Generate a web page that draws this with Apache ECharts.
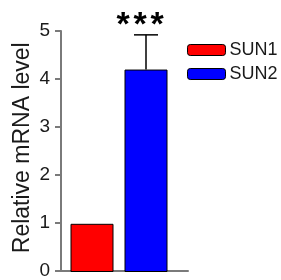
<!DOCTYPE html>
<html>
<head>
<meta charset="utf-8">
<script src="https://cdn.jsdelivr.net/npm/echarts@6/dist/echarts.min.js"></script>
<style>
  html, body { margin: 0; padding: 0; background: #fff; }
  #chart { width: 281px; height: 280px; }
</style>
</head>
<body>
<div id="chart"></div>
<script>
// data
var categories = ['SUN1', 'SUN2'];
var means = [1, 4.2];
var upperErr = [0, 0.72];
var stars = ['', '***'];
var colors = ['#ff0000', '#0000ff'];

(function() {
    var axisGrey = '#7a7a7a';
    var font = 'Arial, "Liberation Sans", sans-serif';

    var barSeries = categories.map(function(name, i) {
        return {
            name: name,
            type: 'bar',
            xAxisIndex: 1,
            yAxisIndex: 1,
            barWidth: 43,
            barGap: '-100%',
            itemStyle: { color: colors[i], borderColor: '#000', borderWidth: 1 },
            data: means.map(function(v, j) { return j === i ? v : '-'; })
        };
    });

    var errData = [];
    means.forEach(function(v, i) {
        if (upperErr[i] > 0) errData.push([i, v, v + upperErr[i], stars[i]]);
    });

    option = {
        animation: false,
        grid: [
            { left: 61, right: 93, top: 31, bottom: 8 },
            { left: 65, right: 108, top: 31, bottom: 8 }
        ],
        legend: {
            orient: 'vertical',
            left: 187,
            top: 41,
            padding: 0,
            itemWidth: 38,
            itemHeight: 11,
            itemGap: 6,
            data: categories,
            itemStyle: { borderColor: '#000', borderWidth: 1 },
            textStyle: { fontSize: 18, color: '#1a1a1a', fontFamily: font, padding: [0, 0, 0, -1] }
        },
        xAxis: [{
            type: 'category',
            gridIndex: 0,
            data: categories,
            axisLine: { lineStyle: { color: axisGrey, width: 2 } },
            axisTick: { show: false },
            axisLabel: { show: false }
        }, {
            type: 'category',
            gridIndex: 1,
            data: categories,
            show: false
        }],
        yAxis: [{
            type: 'value',
            gridIndex: 0,
            min: 0,
            max: 5,
            interval: 1,
            name: 'Relative mRNA level',
            nameLocation: 'middle',
            nameGap: 27,
            nameTextStyle: { fontSize: 23, color: '#1a1a1a', fontFamily: font, padding: [0, 0, 0, 6] },
            axisLine: { show: true, lineStyle: { color: axisGrey, width: 2 } },
            axisTick: { show: true, length: 6, lineStyle: { color: axisGrey, width: 2 } },
            axisLabel: { fontSize: 19, color: '#1a1a1a', fontFamily: font, margin: 11 },
            splitLine: { show: false }
        }, {
            type: 'value',
            gridIndex: 1,
            min: 0,
            max: 5,
            show: false
        }],
        series: barSeries.concat([{
            type: 'custom',
            xAxisIndex: 1,
            yAxisIndex: 1,
            z: 5,
            data: errData,
            renderItem: function(params, api) {
                var x = api.value(0);
                var base = api.coord([x, api.value(1)]);
                var top = api.coord([x, api.value(2)]);
                var half = 12;
                var style = { stroke: '#000', lineWidth: 1.5 };
                var children = [
                    { type: 'line', shape: { x1: base[0], y1: base[1], x2: top[0], y2: top[1] }, style: style },
                    { type: 'line', shape: { x1: top[0] - half, y1: top[1], x2: top[0] + half, y2: top[1] }, style: style }
                ];
                // draw the stars one by one so they can be spaced like the figure
                var s = String(api.value(3));
                for (var k = 0; k < s.length; k++) {
                    children.push({ type: 'text', style: {
                        text: s[k], x: top[0] - 6 + (k - (s.length - 1) / 2) * 17, y: top[1] + 8,
                        align: 'center', verticalAlign: 'bottom',
                        fontSize: 34, fontWeight: 'bold', fontFamily: font, fill: '#000'
                    } });
                }
                return { type: 'group', children: children };
            }
        }])
    };

    var chart = echarts.init(document.getElementById('chart'));
    chart.setOption(option);
})();
</script>
</body>
</html>
